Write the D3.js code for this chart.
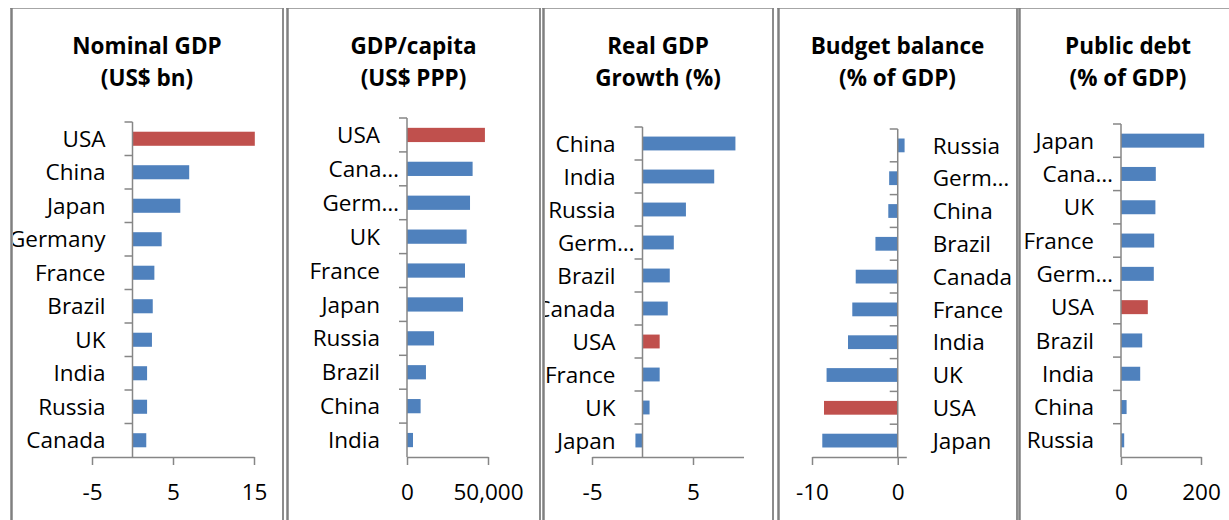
<!DOCTYPE html>
<html>
<head>
<meta charset="utf-8">
<script src="https://cdn.jsdelivr.net/npm/d3@7"></script>
<style>
  body { margin: 0; background: #fff; }
  text { font-family: "Open Sans", Lato, sans-serif; fill: #000; }
</style>
</head>
<body>
<script>
var width = 1229;
var height = 520;

// data (top to bottom in each panel)
var nominalCountries = ["USA", "China", "Japan", "Germany", "France", "Brazil", "UK", "India", "Russia", "Canada"];
var nominalGdp = [15.1, 7.0, 5.9, 3.6, 2.7, 2.5, 2.4, 1.8, 1.8, 1.7];

var capitaCountries = ["USA", "Cana…", "Germ…", "UK", "France", "Japan", "Russia", "Brazil", "China", "India"];
var gdpPerCapita = [48100, 40500, 38900, 36800, 35800, 34600, 16700, 11700, 8400, 3700];

var growthCountries = ["China", "India", "Russia", "Germ…", "Brazil", "Canada", "USA", "France", "UK", "Japan"];
var realGrowth = [9.2, 7.1, 4.3, 3.1, 2.7, 2.5, 1.7, 1.7, 0.7, -0.7];

var budgetCountries = ["Russia", "Germ…", "China", "Brazil", "Canada", "France", "India", "UK", "USA", "Japan"];
var budgetBalance = [0.8, -1.0, -1.1, -2.6, -4.9, -5.3, -5.8, -8.3, -8.6, -8.8];

var debtCountries = ["Japan", "Cana…", "UK", "France", "Germ…", "USA", "Brazil", "India", "China", "Russia"];
var publicDebt = [208, 87, 86, 83, 82, 67, 53, 48, 14, 8];

var plain = function (d) { return String(d); };

var panels = [
    {title: ["Nominal GDP", "(US$ bn)"], cats: nominalCountries, vals: nominalGdp,
        left: 10, right: 284, domain: [-5, 15], range: [92, 254], ticks: [-5, 5, 15], top: 122, fmt: plain},
    {title: ["GDP/capita", "(US$ PPP)"], cats: capitaCountries, vals: gdpPerCapita,
        left: 286, right: 541, domain: [0, 50000], range: [407, 488], ticks: [0, 50000], top: 118, fmt: d3.format(",")},
    {title: ["Real GDP", "Growth (%)"], cats: growthCountries, vals: realGrowth,
        left: 542, right: 774, domain: [-5, 10], range: [592, 743.5], ticks: [-5, 5], top: 127, fmt: plain},
    {title: ["Budget balance", "(% of GDP)"], cats: budgetCountries, vals: budgetBalance,
        left: 777, right: 1018, domain: [-10, 1], range: [812, 906.3], ticks: [-10, 0], top: 129, fmt: plain, labelsRight: true},
    {title: ["Public debt", "(% of GDP)"], cats: debtCountries, vals: publicDebt,
        left: 1018, right: 1238, domain: [0, 200], range: [1121, 1201], ticks: [0, 200], top: 124, fmt: plain}
];

var bottom = 457;
var blue = "#4f81bd";
var red = "#c0504d";
var axisColor = "#868686";
var fontSize = "22.5px";

var svg = d3.select("body").append("svg").attr("width", width + "px").attr("height", height + "px");

panels.forEach(function (p, i) {
    var g = svg.append("g");

    svg.append("clipPath").attr("id", "clip" + i)
        .append("rect")
        .attr("x", p.left + 3).attr("y", 0)
        .attr("width", p.right - p.left - 5).attr("height", height);

    var inner = g.append("g").attr("clip-path", "url(#clip" + i + ")");

    // frame
    g.append("line").attr("x1", p.left).attr("x2", p.right).attr("y1", 8.5).attr("y2", 8.5)
        .attr("stroke", "#a6a6a6").attr("stroke-width", 1);
    g.append("line").attr("x1", p.left + 1.5).attr("x2", p.left + 1.5).attr("y1", 8).attr("y2", height)
        .attr("stroke", "#808080").attr("stroke-width", 2.5);
    g.append("line").attr("x1", p.right - 1).attr("x2", p.right - 1).attr("y1", 8).attr("y2", height)
        .attr("stroke", "#8c8c8c").attr("stroke-width", 2);

    var x = d3.scaleLinear().domain(p.domain).range(p.range);
    var y = d3.scaleBand().domain(p.cats).range([p.top, bottom]).paddingInner(0.58).paddingOuter(0.29);
    var step = y.step();
    var cx = (p.left + p.right) / 2;

    // title
    inner.append("text").attr("x", cx).attr("y", 54).attr("text-anchor", "middle")
        .style("font-weight", "bold").style("font-size", fontSize).text(p.title[0]);
    inner.append("text").attr("x", cx).attr("y", 86).attr("text-anchor", "middle")
        .style("font-weight", "bold").style("font-size", fontSize).text(p.title[1]);

    // bars
    inner.append("g").selectAll("rect")
        .data(p.vals)
        .enter().append("rect")
        .attr("x", function (d) { return x(Math.min(0, d)); })
        .attr("width", function (d) { return Math.abs(x(d) - x(0)); })
        .attr("y", function (d, j) { return y(p.cats[j]); })
        .attr("height", y.bandwidth())
        .attr("fill", function (d, j) { return p.cats[j] === "USA" ? red : blue; });

    // value axis
    var axis = inner.append("g")
        .attr("transform", "translate(0," + bottom + ")")
        .call(d3.axisBottom(x).tickValues(p.ticks).tickFormat(p.fmt).tickSize(8).tickSizeOuter(0).tickPadding(19));
    axis.select(".domain").attr("stroke", axisColor).attr("stroke-width", 1.5);
    axis.selectAll(".tick line").attr("stroke", axisColor).attr("stroke-width", 1.5);
    axis.selectAll(".tick text").style("font-size", fontSize).attr("fill", "#000")
        .style("font-family", "'Open Sans', Lato, sans-serif");

    // category axis
    var x0 = x(0);
    inner.append("line").attr("x1", x0).attr("x2", x0).attr("y1", p.top).attr("y2", bottom)
        .attr("stroke", axisColor).attr("stroke-width", 1.5);
    inner.append("g").selectAll("line")
        .data(d3.range(p.cats.length))
        .enter().append("line")
        .attr("x1", x0 - 8).attr("x2", x0)
        .attr("y1", function (j) { return p.top + j * step; })
        .attr("y2", function (j) { return p.top + j * step; })
        .attr("stroke", axisColor).attr("stroke-width", 1.5);

    inner.append("g").selectAll("text")
        .data(p.cats)
        .enter().append("text")
        .attr("x", function (d) {
            if (p.labelsRight) return x0 + 35;
            return d.slice(-1) === "…" ? x0 - 8 : x0 - 27;
        })
        .attr("y", function (d) { return y(d) + y.bandwidth() / 2; })
        .attr("dy", "0.36em")
        .attr("text-anchor", p.labelsRight ? "start" : "end")
        .style("font-size", fontSize)
        .text(function (d) { return d; });
});
</script>
</body>
</html>
